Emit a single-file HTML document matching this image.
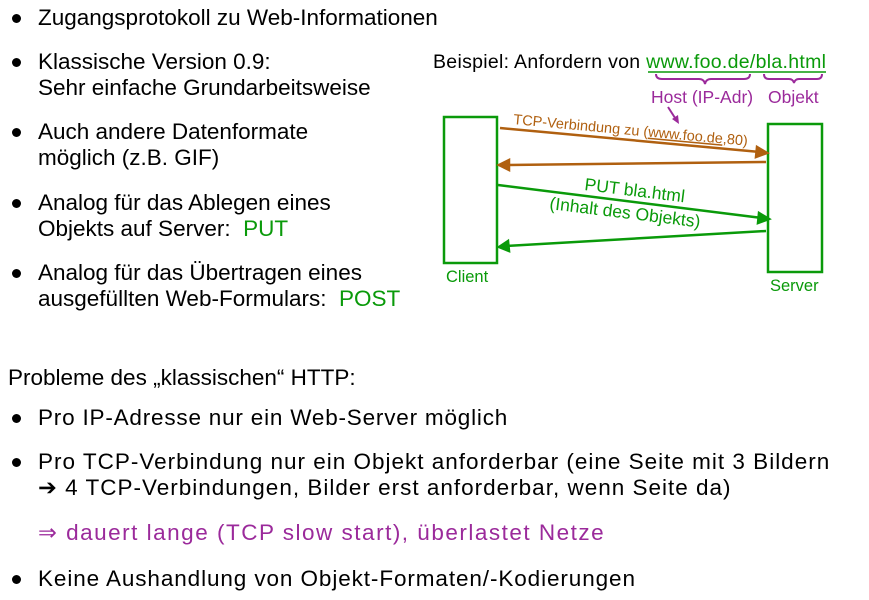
<!DOCTYPE html>
<html><head><meta charset="utf-8"><style>
body{margin:0;width:869px;height:600px;background:#fff;position:relative;overflow:hidden;font-family:"Liberation Sans",sans-serif;color:#000}
.t{position:absolute;font-size:22.5px;white-space:nowrap;letter-spacing:0;line-height:26px}
.b{position:absolute;width:9px;height:9px;border-radius:50%;background:#000}
.g{color:#0a9a0a}.p{color:#9b2a9b}
</style></head><body>
<div class="b" style="left:12px;top:14px"></div><div class="t" style="left:38px;top:5px">Zugangsprotokoll zu Web-Informationen</div>
<div class="b" style="left:12px;top:58px"></div><div class="t" style="left:38px;top:49px">Klassische Version 0.9:<br>Sehr einfache Grundarbeitsweise</div>
<div class="b" style="left:12px;top:128px"></div><div class="t" style="left:38px;top:119px">Auch andere Datenformate<br>möglich (z.B. GIF)</div>
<div class="b" style="left:12px;top:199px"></div><div class="t" style="left:38px;top:190px">Analog für das Ablegen eines<br>Objekts auf Server:&nbsp;&nbsp;<span class="g">PUT</span></div>
<div class="b" style="left:12px;top:269px"></div><div class="t" style="left:38px;top:260px">Analog für das Übertragen eines<br>ausgefüllten Web-Formulars:&nbsp;&nbsp;<span class="g">POST</span></div>
<div class="t" style="left:8px;top:365px">Probleme des „klassischen“ HTTP:</div>
<div class="b" style="left:12px;top:414px"></div><div class="t" style="left:38px;top:405px;letter-spacing:0.8px">Pro IP-Adresse nur ein Web-Server möglich</div>
<div class="b" style="left:12px;top:458px"></div><div class="t" style="left:38px;top:449px;letter-spacing:1px">Pro TCP-Verbindung nur ein Objekt anforderbar (eine Seite mit 3 Bildern<br>➔ 4 TCP-Verbindungen, Bilder erst anforderbar, wenn Seite da)</div>
<div class="t p" style="left:38px;top:520px;letter-spacing:1.5px">⇒ dauert lange (TCP slow start), überlastet Netze</div>
<div class="b" style="left:12px;top:575px"></div><div class="t" style="left:38px;top:566px;letter-spacing:0.9px">Keine Aushandlung von Objekt-Formaten/-Kodierungen</div>

<svg width="869" height="600" style="position:absolute;left:0;top:0" font-family="Liberation Sans,sans-serif">
<text x="433" y="68" font-size="19.5" textLength="393">Beispiel:  Anfordern von <tspan fill="#0a9a0a">www.foo.de/bla.html</tspan></text>
<line x1="648" y1="72" x2="826" y2="72" stroke="#0a9a0a" stroke-width="1.5"/>
<path d="M656 74 q0 5 6 5 h37 q5 0 6 5 q1 -5 6 -5 h33 q6 0 6 -5" fill="none" stroke="#9b2a9b" stroke-width="2"/>
<path d="M764 74 q0 5 5 5 h20 q4 0 5 4 q1 -4 5 -4 h18 q5 0 5 -5" fill="none" stroke="#9b2a9b" stroke-width="2"/>
<text x="651" y="103" font-size="17.5" fill="#9b2a9b">Host (IP-Adr)</text>
<text x="768" y="103" font-size="17.5" fill="#9b2a9b">Objekt</text>
<line x1="668" y1="107" x2="677" y2="121" stroke="#9b2a9b" stroke-width="2"/>
<path d="M679 124 l-1 -9 l-6 4z" fill="#9b2a9b"/>
<rect x="444" y="117" width="53" height="146" fill="none" stroke="#0a9a0a" stroke-width="2.5"/>
<rect x="768" y="124" width="54" height="148" fill="none" stroke="#0a9a0a" stroke-width="2.5"/>
<text x="446" y="282" font-size="16.5" fill="#0a9a0a">Client</text>
<text x="770" y="291" font-size="16.5" fill="#0a9a0a">Server</text>
<g stroke="#b06010" stroke-width="2.5" fill="#b06010">
<line x1="500" y1="128" x2="760" y2="152"/><path d="M767 153 l-10 -6 l-1 10z"/>
<line x1="766" y1="162" x2="506" y2="165"/><path d="M499 165 l10 -5 v10z"/>
</g>
<text x="513" y="124" font-size="14.5" fill="#b06010" transform="rotate(5.3 513 124)">TCP-Verbindung zu (<tspan text-decoration="underline">www.foo.de</tspan>,80)</text>
<g stroke="#0a9a0a" stroke-width="2.5" fill="#0a9a0a">
<line x1="498" y1="185" x2="762" y2="218"/><path d="M769 219 l-10 -6 l-1 10z"/>
<line x1="766" y1="231" x2="506" y2="246"/><path d="M499 247 l9 -6 l1 10z"/>
</g>
<g fill="#0a9a0a" font-size="17.5">
<text x="584" y="190" transform="rotate(7 584 190)">PUT bla.html</text>
<text x="549" y="209" transform="rotate(7 549 209)">(Inhalt des Objekts)</text>
</g>
</svg>
</body></html>
